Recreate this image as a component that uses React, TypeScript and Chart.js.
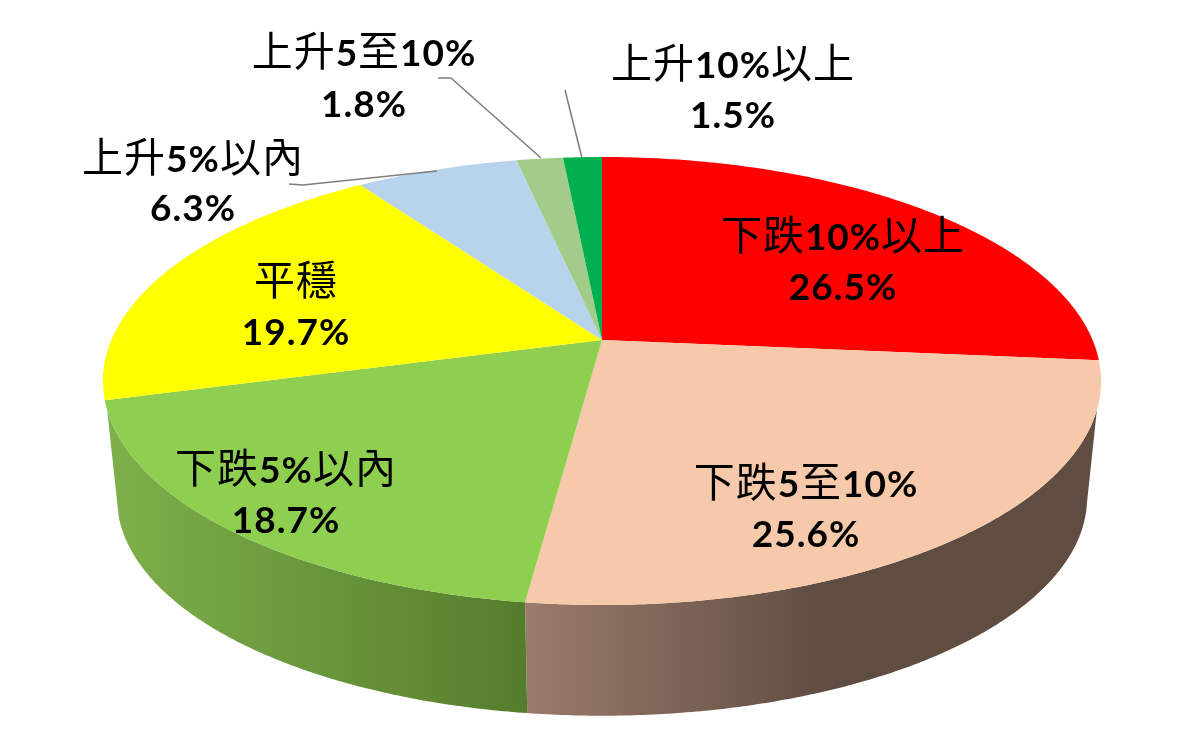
import React, {useEffect, useRef} from "react";
import {Chart, registerables} from "chart.js";

Chart.register(...registerables);

const categories = ["下跌10%以上", "下跌5至10%", "下跌5%以內", "平穩", "上升5%以內", "上升5至10%", "上升10%以上"];
const values = [26.5, 25.6, 18.7, 19.7, 6.3, 1.8, 1.5];

const topColors = ["#ff0000", "#f5c9a9", "#8ecf50", "#ffff00", "#b8d3ec", "#a3cc8b", "#00b050"];
// only the two front slices show a wall: light end, dark end, length of the fade
const wallStyles: Record<number, [string, string, number]> = {
    1: ["#9b7b6b", "#5f4d41", 300],
    2: ["#7eb04a", "#557c2c", 422],
};

// centre x, baseline of name, baseline of percent
const labelSpots = [
    [843, 250, 300],
    [806, 497, 547],
    [286, 483, 533],
    [296, 295, 345],
    [193, 172, 221],
    [364, 66, 117],
    [733, 78, 128],
];
const leaders = [
    [[289, 184], [303, 185], [437, 171]],
    [[438, 78], [451, 78], [541, 158]],
    [[565, 90], [582, 158]],
];

const RX = 490.6 / 340;
const RY = 216.5 / 340;
const PERSP = -0.183;
// the lower rim of the wall
const ELLIPSE_X = 602;
const ELLIPSE_Y = 381;
const RIM_Y = 498;
const RIM_SCALE = 0.972;

const pie3d = {
    id: "pie3d",
    beforeDatasetsDraw(chart: any) {
        const ctx: CanvasRenderingContext2D = chart.ctx;
        const arcs = chart.getDatasetMeta(0).data;

        const project = (arc: any, angle: number) => {
            const w = 1 + PERSP * Math.sin(angle);
            return [
                arc.x + arc.outerRadius * RX * Math.cos(angle) / w,
                arc.y + arc.outerRadius * RY * Math.sin(angle) / w,
            ];
        };
        const rim = (p: number[]) => [
            ELLIPSE_X + (p[0] - ELLIPSE_X) * RIM_SCALE,
            RIM_Y + (p[1] - ELLIPSE_Y) * RIM_SCALE,
        ];
        const angles = (arc: any) => {
            const out: number[] = [];
            const n = Math.max(2, Math.ceil((arc.endAngle - arc.startAngle) * 120));
            for (let i = 0; i <= n; i++) {
                out.push(arc.startAngle + (arc.endAngle - arc.startAngle) * i / n);
            }
            return out;
        };

        // walls first, the tops sit over them
        arcs.forEach((arc: any, i: number) => {
            const style = wallStyles[i];
            if (!style) return;
            const steps = angles(arc);
            const upper = steps.filter(a => Math.sin(a) > 0.3).map(a => project(arc, a));
            const lower = steps.filter(a => Math.sin(a) > 0.2).map(a => rim(project(arc, a)));
            const left = Math.min(...upper.map(p => p[0]));
            const grad = ctx.createLinearGradient(left, 0, left + style[2], 0);
            grad.addColorStop(0, style[0]);
            grad.addColorStop(1, style[1]);
            ctx.beginPath();
            upper.forEach((p, k) => k ? ctx.lineTo(p[0], p[1]) : ctx.moveTo(p[0], p[1]));
            lower.reverse().forEach(p => ctx.lineTo(p[0], p[1]));
            ctx.closePath();
            ctx.fillStyle = grad;
            ctx.fill();
        });

        arcs.forEach((arc: any, i: number) => {
            ctx.beginPath();
            ctx.moveTo(arc.x, arc.y);
            angles(arc).forEach(a => {
                const p = project(arc, a);
                ctx.lineTo(p[0], p[1]);
            });
            ctx.closePath();
            ctx.fillStyle = topColors[i];
            ctx.fill();
        });
        return false;
    },
    afterDraw(chart: any) {
        const ctx: any = chart.ctx;
        ctx.save();
        ctx.strokeStyle = "#7f7f7f";
        ctx.lineWidth = 1.6;
        leaders.forEach(line => {
            ctx.beginPath();
            line.forEach((p, k) => k ? ctx.lineTo(p[0], p[1]) : ctx.moveTo(p[0], p[1]));
            ctx.stroke();
        });

        const cjkFont = '41px "Noto Sans CJK TC"';
        const latinFont = 'bold 37px Lato';
        ctx.fillStyle = "#000000";
        ctx.textAlign = "left";
        ctx.textBaseline = "alphabetic";
        ctx.letterSpacing = "1px";
        categories.forEach((name, i) => {
            const [cx, y1, y2] = labelSpots[i];
            const runs = name.match(/[0-9%]+|[^0-9%]+/g) || [];
            const fontOf = (r: string) => /[0-9%]/.test(r) ? latinFont : cjkFont;
            const width = runs.reduce((acc, r) => {
                ctx.font = fontOf(r);
                return acc + ctx.measureText(r).width;
            }, 0);
            let x = cx - width / 2;
            runs.forEach(r => {
                ctx.font = fontOf(r);
                ctx.fillText(r, x, y1);
                x += ctx.measureText(r).width;
            });
            const pct = values[i].toFixed(1) + "%";
            ctx.font = latinFont;
            ctx.fillText(pct, cx - ctx.measureText(pct).width / 2, y2);
        });
        ctx.restore();
    },
};

export default function App() {
    const chartRef = useRef<HTMLCanvasElement>(null);

    useEffect(() => {
        if (!chartRef.current) return;
        const chart = new Chart(chartRef.current, {
            type: "pie",
            data: {
                labels: categories,
                datasets: [{data: values, backgroundColor: topColors, borderWidth: 0}],
            },
            options: {
                animation: false,
                responsive: false,
                layout: {padding: {left: 4, bottom: 50}},
                plugins: {legend: {display: false}, tooltip: {enabled: false}},
            },
            plugins: [pie3d],
        } as any);
        return () => chart.destroy();
    }, []);

    return (
        <div style={{position: "absolute", left: 0, top: 0, width: 1200, height: 730}}>
            <canvas ref={chartRef} width={1200} height={730} style={{filter: "blur(0.7px)"}} />
        </div>
    );
}
